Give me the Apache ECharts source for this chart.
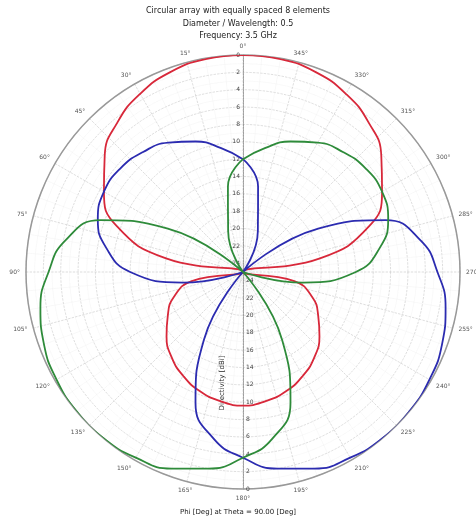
<!DOCTYPE html>
<html><head><meta charset="utf-8">
<script src="https://cdn.jsdelivr.net/npm/echarts@6/dist/echarts.min.js"></script>
<style>html,body{margin:0;padding:0;background:#fff}#c{width:476px;height:523px}</style>
</head><body><div id="c"></div>
<script>
// Angles (deg, counter-clockwise from top)
const angles = [0,10,20,30,40,50,60,70,80,90,100,110,120,130,140,150,160,170,180,190,200,210,220,230,240,250,260,270,280,290,300,310,320,330,340,350,360];
// Level below the outer ring, dB (0 = outer ring, 25 = centre)
const redDb   = [0,0.1,0.5,1.3,2.5,4.2,6.5,9.5,16,25,19,16.5,15,13.5,12.2,11.2,10.4,9.9,9.6,9.9,10.4,11.2,12.2,13.5,15,16.5,19,25,16,9.5,6.5,4.2,2.5,1.3,0.5,0.1,0];
const blueDb  = [12,10.5,9,7.8,7,6.5,6.5,7.2,9,12,18,25,25,25,25,16,9,5.5,3.6,2,0.9,0.3,0,0,0.2,0.6,1.3,2.6,4.2,7.5,15,25,25,25,20,15,12];
const greenDb = [12,15,20,25,25,25,15,7.5,4.2,2.6,1.3,0.6,0.2,0,0,0.3,0.9,2,3.6,5.5,9,16,25,25,25,25,18,12,9,7.2,6.5,6.5,7,7.8,9,10.5,12];
const radialTicks = [0,2,4,6,8,10,12,14,16,18,20,22,24];
const titleLines = ['Circular array with equally spaced 8 elements','Diameter / Wavelength: 0.5','Frequency: 3.5 GHz'];
const xTitle = 'Phi [Deg] at Theta = 90.00 [Deg]';
const rTitle = 'Directivity [dBi]';

const pairs = arr => arr.map((v,i)=>[v, angles[i]]);
const chart = echarts.init(document.getElementById('c'));
const gridGray = '#c8c8c8';
const radiusAxisBase = {
  type:'value', min:0, max:25, interval:2, inverse:true
};
chart.setOption({
  animation:false,
  title:{text:titleLines.join('\n'), left:'center', top:0,
    textStyle:{fontSize:8, fontWeight:'normal', color:'#222', lineHeight:12.5, fontFamily:'DejaVu Sans'}},
  polar:[
    {center:[243,272], radius:217},
    {center:[243,272], radius:217}
  ],
  angleAxis:[
    {polarIndex:0, type:'value', min:0, max:360, interval:15, startAngle:90, clockwise:false,
     axisLine:{show:true, lineStyle:{color:'#999', width:1.5}},
     axisTick:{show:false},
     axisLabel:{show:true, fontSize:6, color:'#555', margin:6, fontFamily:'DejaVu Sans',
       formatter:v=> v===360 ? '' : v+'°'},
     splitLine:{show:true, lineStyle:{color:gridGray, width:0.6, type:'dashed'}},
     minorTick:{show:false, splitNumber:3},
     minorSplitLine:{show:true, lineStyle:{color:'#e4e4e4', width:0.5, type:'dotted'}}
    },
    {polarIndex:1, type:'value', min:0, max:360, startAngle:270, clockwise:false, show:false}
  ],
  radiusAxis:[
    Object.assign({polarIndex:0,
      axisLine:{show:true, lineStyle:{color:'#888', width:0.8, type:'dotted'}},
      axisTick:{show:false},
      axisLabel:{show:true, fontSize:6, color:'#444', showMaxLabel:false, margin:3, fontFamily:'DejaVu Sans',
        formatter:v=> radialTicks.includes(v) ? String(v) : ''},
      splitLine:{show:true, lineStyle:{color:gridGray, width:0.6, type:'dashed'}},
      minorTick:{show:false, splitNumber:2},
      minorSplitLine:{show:true, lineStyle:{color:'#e4e4e4', width:0.5, type:'dotted'}}
    }, radiusAxisBase),
    Object.assign({polarIndex:1,
      axisLine:{show:true, lineStyle:{color:'#888', width:0.8, type:'dotted'}},
      axisTick:{show:false},
      axisLabel:{show:true, fontSize:6, color:'#444', showMaxLabel:false, margin:3, fontFamily:'DejaVu Sans',
        formatter:v=> radialTicks.includes(v) ? String(v) : ''},
      splitLine:{show:false}
    }, radiusAxisBase)
  ],
  series:[
    {type:'line', coordinateSystem:'polar', polarIndex:0, data:pairs(redDb), smooth:true, showSymbol:false,
     lineStyle:{color:'#d8283a', width:1.8}},
    {type:'line', coordinateSystem:'polar', polarIndex:0, data:pairs(blueDb), smooth:true, showSymbol:false,
     lineStyle:{color:'#2b2bb0', width:1.8}},
    {type:'line', coordinateSystem:'polar', polarIndex:0, data:pairs(greenDb), smooth:true, showSymbol:false,
     lineStyle:{color:'#2e8b3a', width:1.8}}
  ],
  graphic:[
    {type:'text', left:'center', top:509, style:{text:xTitle, fontSize:7, fontWeight:'normal', fill:'#222', fontFamily:'DejaVu Sans'}},
    {type:'text', x:222, y:383, rotation:Math.PI/2, style:{text:rTitle, fontSize:7, fontWeight:'normal', fill:'#222', align:'center', verticalAlign:'middle', fontFamily:'DejaVu Sans'}}
  ]
});
</script></body></html>
